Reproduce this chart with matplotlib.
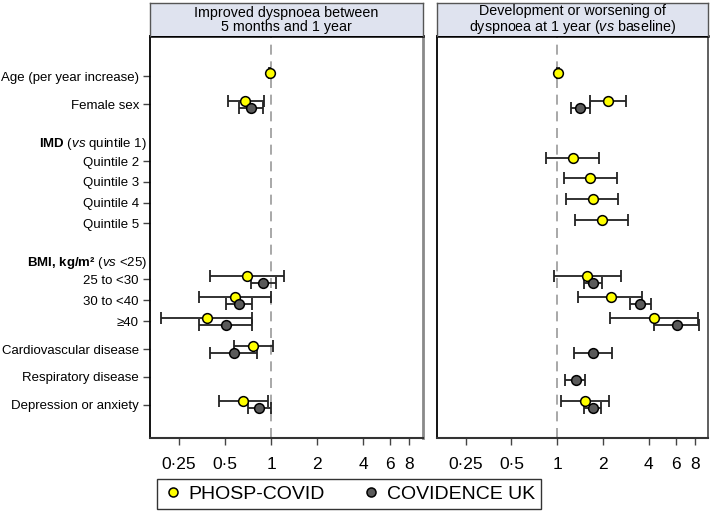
import numpy as np
import matplotlib.pyplot as plt
from matplotlib.ticker import FixedLocator, NullLocator

plt.rcParams['font.family'] = ['Liberation Sans', 'DejaVu Sans']
plt.rcParams['mathtext.fontset'] = 'custom'
plt.rcParams['mathtext.rm'] = 'Liberation Sans'
plt.rcParams['mathtext.it'] = 'Liberation Sans:italic'
plt.rcParams['mathtext.bf'] = 'Liberation Sans:bold'

nan = np.nan

# rows (variables) and section headers
row_labels = ["Age (per year increase)", "Female sex",
              "Quintile 2", "Quintile 3", "Quintile 4", "Quintile 5",
              "25 to <30", "30 to <40", "≥40",
              "Cardiovascular disease", "Respiratory disease", "Depression or anxiety"]
header_labels = [r"$\mathbf{IMD}$ ($\mathit{vs}$ quintile 1)",
                 r"$\mathbf{BMI{,}\ kg/m²}$ ($\mathit{vs}$ <25)"]

panel_titles = ["Improved dyspnoea between\n5 months and 1 year",
                "Development or worsening of\ndyspnoea at 1 year ($\\mathit{vs}$ baseline)"]

# panel 1: improved dyspnoea
phosp_est_1 = [0.98, 0.68, nan, nan, nan, nan, 0.70, 0.58, 0.38, 0.76, nan, 0.66]
phosp_lo_1 = [0.97, 0.52, nan, nan, nan, nan, 0.40, 0.34, 0.19, 0.575, nan, 0.46]
phosp_hi_1 = [0.99, 0.90, nan, nan, nan, nan, 1.22, 1.00, 0.75, 1.03, nan, 0.95]
covid_est_1 = [nan, 0.74, nan, nan, nan, nan, 0.89, 0.62, 0.51, 0.57, nan, 0.83]
covid_lo_1 = [nan, 0.62, nan, nan, nan, nan, 0.74, 0.505, 0.34, 0.40, nan, 0.71]
covid_hi_1 = [nan, 0.89, nan, nan, nan, nan, 1.08, 0.75, 0.75, 0.81, nan, 1.00]

# panel 2: development or worsening
phosp_est_2 = [1.01, 2.17, 1.27, 1.65, 1.71, 1.96, 1.58, 2.24, 4.33, nan, nan, 1.53]
phosp_lo_2 = [1.00, 1.65, 0.85, 1.11, 1.15, 1.31, 0.95, 1.37, 2.23, nan, nan, 1.06]
phosp_hi_2 = [1.02, 2.83, 1.89, 2.47, 2.50, 2.92, 2.64, 3.63, 8.40, nan, nan, 2.20]
covid_est_2 = [nan, 1.42, nan, nan, nan, nan, 1.71, 3.52, 6.10, 1.71, 1.32, 1.71]
covid_lo_2 = [nan, 1.23, nan, nan, nan, nan, 1.49, 3.00, 4.33, 1.29, 1.13, 1.50]
covid_hi_2 = [nan, 1.63, nan, nan, nan, nan, 1.97, 4.12, 8.57, 2.29, 1.53, 1.93]

xticks = [0.25, 0.5, 1, 2, 4, 6, 8]
xtick_labels = ["0·25", "0·5", "1", "2", "4", "6", "8"]

# vertical layout: gaps between successive lines (rows + headers), in row units
line_order = ["r0", "r1", "h0", "r2", "r3", "r4", "r5", "h1", "r6", "r7", "r8", "r9", "r10", "r11"]
gaps = [1.35, 1.9, 0.85, 1, 1, 1, 1.9, 0.8, 1.03, 1, 1.35, 1.35, 1.35]
top_margin, bottom_margin = 1.95, 1.6
pos = np.concatenate([[0], np.cumsum(gaps)])
line_pos = dict(zip(line_order, pos))
row_pos = np.array([line_pos["r%d" % i] for i in range(len(row_labels))])
head_pos = [line_pos["h0"], line_pos["h1"]]
off = 0.17

fig = plt.figure(figsize=(7.13, 5.15), dpi=100)
W, H = 713, 515
panels = [(150, 423), (437, 708)]
ax_top, ax_bot = 36, 438
head_top = 3

yellow = '#ffff00'
grey = '#5a5a5a'

data = [
    (phosp_est_1, phosp_lo_1, phosp_hi_1, covid_est_1, covid_lo_1, covid_hi_1),
    (phosp_est_2, phosp_lo_2, phosp_hi_2, covid_est_2, covid_lo_2, covid_hi_2),
]

for k, (x0, x1) in enumerate(panels):
    ax = fig.add_axes([x0 / W, 1 - ax_bot / H, (x1 - x0) / W, (ax_bot - ax_top) / H])
    pe, pl, ph, ce, cl, ch = [np.array(a, dtype=float) for a in data[k]]

    ax.axvline(1, color='#9a9a9a', lw=1.2, ls=(0, (6, 4)), zorder=1)

    for est, lo, hi, dy, col in [(pe, pl, ph, -off, yellow), (ce, cl, ch, off, grey)]:
        m = ~np.isnan(est)
        ax.errorbar(est[m], row_pos[m] + dy, xerr=[est[m] - lo[m], hi[m] - est[m]],
                    fmt='none', ecolor='#222222', elinewidth=1.3, capsize=4, capthick=1.3, zorder=2)
        ax.plot(est[m], row_pos[m] + dy, 'o', ms=7, mfc=col, mec='black', mew=1.1, zorder=3)

    ax.set_xscale('log')
    ax.set_xlim(0.162, 9.8)
    ax.set_ylim(pos[-1] + bottom_margin, -top_margin)
    ax.xaxis.set_major_locator(FixedLocator(xticks))
    ax.xaxis.set_minor_locator(NullLocator())
    ax.set_xticklabels(xtick_labels, fontsize=12.5)
    ax.tick_params(axis='x', length=5, width=1, color='#444444', pad=9)

    if k == 0:
        ax.set_yticks(row_pos)
        ax.set_yticklabels(row_labels, fontsize=9.5)
        ax.tick_params(axis='y', length=5, width=1, color='#444444', pad=3)
        for hp, hl in zip(head_pos, header_labels):
            ax.text(-0.012, hp, hl, ha='right', va='center', fontsize=9.5,
                    transform=ax.get_yaxis_transform())
        ax.spines['right'].set_color('#8a8a8a')
        ax.spines['right'].set_linewidth(2)
    else:
        ax.set_yticks([])
        ax.spines['right'].set_color('#444444')
        ax.spines['right'].set_linewidth(1.2)
    ax.spines['left'].set_linewidth(1.3)
    ax.spines['bottom'].set_color('#333333')
    ax.spines['bottom'].set_linewidth(1.5)
    ax.spines['top'].set_linewidth(1.8)

    # title strip
    hx = fig.add_axes([x0 / W, 1 - ax_top / H, (x1 - x0) / W, (ax_top - head_top) / H])
    hx.set_facecolor('#dfe3ef')
    hx.set_xticks([])
    hx.set_yticks([])
    for s in ['top', 'left', 'right']:
        hx.spines[s].set_color('#555555')
        hx.spines[s].set_linewidth(1)
    hx.spines['bottom'].set_visible(False)
    hx.text(0.5, 0.5, panel_titles[k], ha='center', va='center', fontsize=10.3,
            linespacing=1.0, transform=hx.transAxes)

# legend
h1, = fig.axes[0].plot([], [], 'o', ms=6.5, mfc=yellow, mec='black', mew=1.1)
h2, = fig.axes[0].plot([], [], 'o', ms=6.5, mfc=grey, mec='black', mew=1.1)
leg = fig.legend([h1, h2], ["PHOSP-COVID", "COVIDENCE UK"], ncol=2, loc='center',
                 bbox_to_anchor=(349 / W, 1 - 494 / H), fontsize=14, frameon=True,
                 fancybox=False, edgecolor='black', handletextpad=0.3, columnspacing=1.9,
                 handlelength=1.0, borderpad=0.3)
leg.get_frame().set_linewidth(1)

fig.savefig('out.png', dpi=100)
